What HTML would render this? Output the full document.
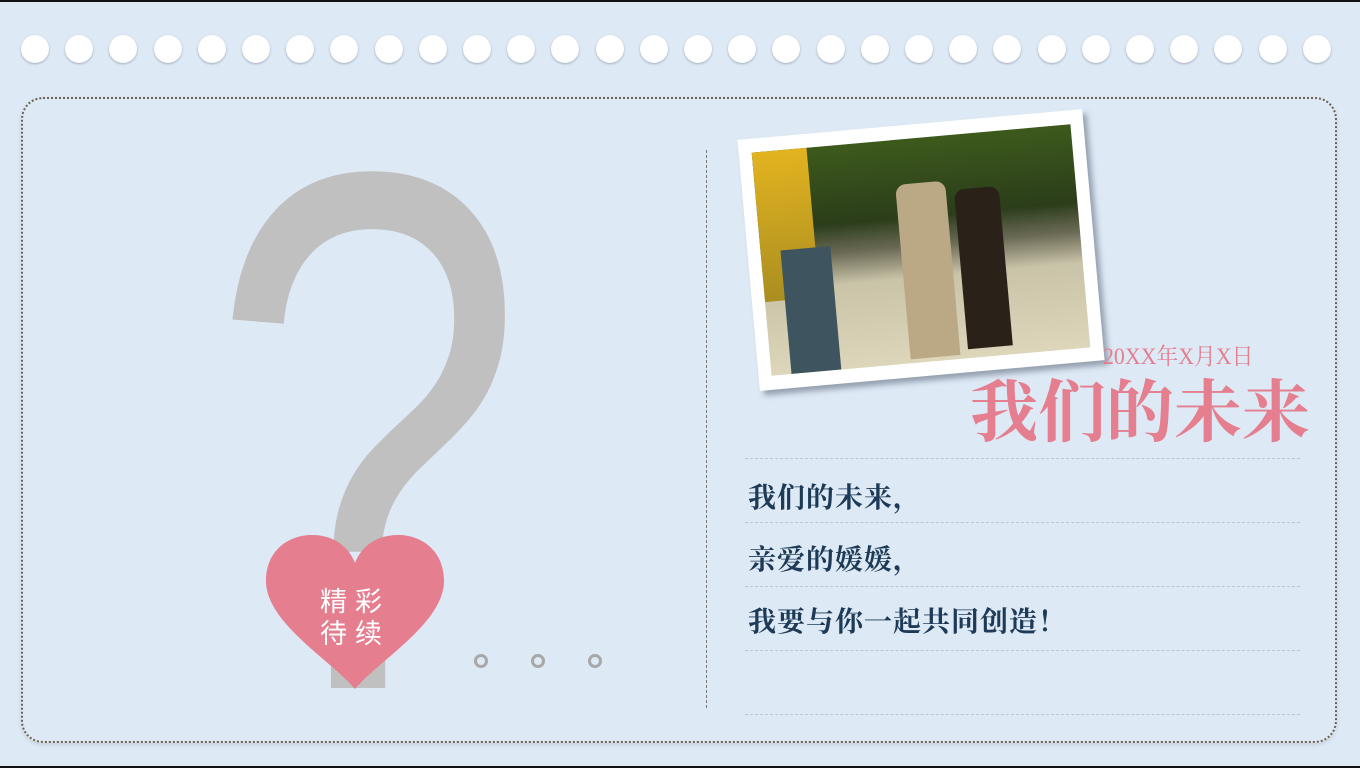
<!DOCTYPE html>
<html style="width:1360px;height:768px;overflow:hidden"><head><meta charset="utf-8"><style>
body{margin:0;width:1360px;height:768px;overflow:hidden;background:#dde9f5;position:relative;font-family:"Liberation Sans","Noto Sans CJK SC",sans-serif}
.abs{position:absolute}
.hole{position:absolute;width:28px;height:28px;border-radius:50%;background:#fff;box-shadow:0 1px 2px rgba(120,130,150,.6);top:35px}
.hl{position:absolute;left:745px;width:555px;border-top:1px dashed #b9c6d3}
.line{position:absolute;left:748px;font-family:"Noto Serif CJK SC","Liberation Serif",serif;font-weight:700;font-size:28px;color:#1d3a56;letter-spacing:1px}
</style></head><body>
<div class="abs" style="left:0;top:0;width:1360px;height:2px;background:#111"></div>
<div class="abs" style="left:0;top:766px;width:1360px;height:2px;background:#111"></div>
<div id="holes"></div>
<div class="abs" style="left:21px;top:97px;width:1312px;height:642px;border:2px dotted #6e6250;border-radius:22px;box-shadow:0 2px 4px rgba(0,0,0,.1)"></div>
<div class="abs" style="left:170px;top:62px;width:340px;height:700px;font-family:'Liberation Sans',sans-serif;font-size:740px;line-height:740px;color:#c0c0c0;transform:scaleX(0.77);transform-origin:center top;text-align:center">?</div>
<svg class="abs" style="left:262px;top:533px" width="186" height="158" viewBox="0 0 186 158"><path d="M93 156 C70 128 4 90 4 48 C4 18 26 2 50 2 C72 2 87 14 93 30 C99 14 114 2 136 2 C160 2 182 18 182 48 C182 90 116 128 93 156Z" fill="#e57e8f"/></svg>
<div class="abs" style="left:320px;top:584px;width:76px;color:#fff;font-size:27px;line-height:32px;letter-spacing:8px;font-family:'Noto Sans CJK SC',sans-serif">精彩<br>待续</div>
<div class="abs" style="left:474px;top:654px;width:8px;height:8px;border:3px solid #a8a8a8;border-radius:50%"></div>
<div class="abs" style="left:531px;top:654px;width:8px;height:8px;border:3px solid #a8a8a8;border-radius:50%"></div>
<div class="abs" style="left:588px;top:654px;width:8px;height:8px;border:3px solid #a8a8a8;border-radius:50%"></div>
<div class="abs" style="left:706px;top:150px;height:558px;border-left:1px dashed #777"></div>
<div class="abs" style="left:748px;top:124px;width:346px;height:252px;background:#fff;transform:rotate(-5.1deg);box-shadow:4px 5px 6px rgba(60,70,90,.45)">
 <div style="position:absolute;left:13px;top:14px;width:320px;height:224px;background:linear-gradient(180deg,#3d5a1c 0%,#2b3d1a 35%,#6b6a55 48%,#c9c3a8 62%,#ddd6bb 100%);overflow:hidden">
  <div style="position:absolute;left:0;top:0;width:55px;height:150px;background:linear-gradient(#e3b320,#a98e20)"></div>
  <div style="position:absolute;left:20px;top:100px;width:50px;height:124px;background:#3e5560"></div>
  <div style="position:absolute;left:140px;top:45px;width:50px;height:175px;background:#bba985;border-radius:10px 10px 0 0"></div>
  <div style="position:absolute;left:198px;top:55px;width:45px;height:160px;background:#2a2219;border-radius:10px 10px 0 0"></div>
 </div>
</div>
<div class="abs" style="left:1103px;top:338px;color:#e57e8f;font-size:23px;font-family:'Liberation Serif','Noto Serif CJK SC',serif;transform:scaleX(.95);transform-origin:left">20XX年X月X日</div>
<div class="abs" style="left:970px;top:368px;color:#e57e8f;font-size:68px;line-height:80px;font-family:'Noto Serif CJK SC',serif;font-weight:700">我们的未来</div>
<div class="hl" style="top:458px"></div>
<div class="hl" style="top:522px"></div>
<div class="hl" style="top:586px"></div>
<div class="hl" style="top:650px"></div>
<div class="hl" style="top:714px"></div>
<div class="line" style="top:476px">我们的未来，</div>
<div class="line" style="top:538px">亲爱的媛媛，</div>
<div class="line" style="top:600px">我要与你一起共同创造！</div>
<script>
var h=document.getElementById('holes');
for(var i=0;i<30;i++){var d=document.createElement('div');d.className='hole';d.style.left=(21+i*44.2)+'px';


h.appendChild(d);}
</script>
</body></html>
